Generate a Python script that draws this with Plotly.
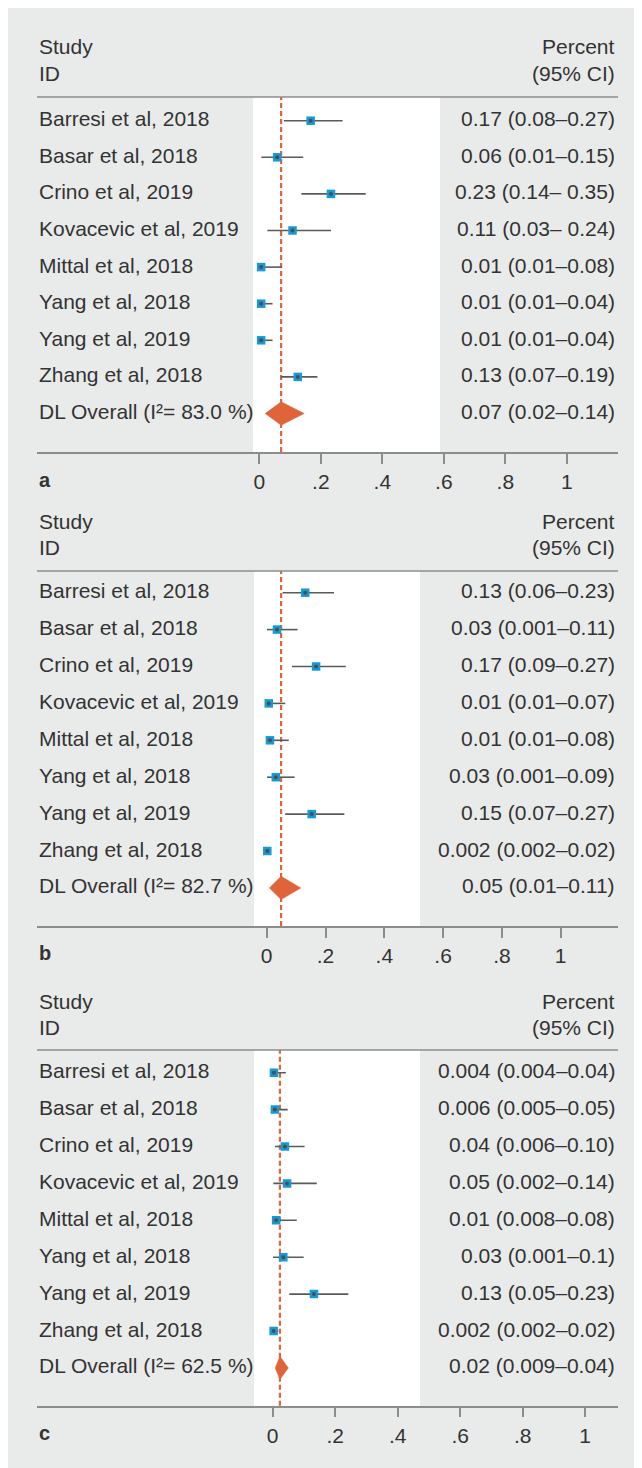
import plotly.graph_objects as go

# page body has an 8px margin: the figure is placed at (8, 8)
OFF = 8
W, H = 642 - OFF, 1468 - OFF

studies = ["Barresi et al, 2018", "Basar et al, 2018", "Crino et al, 2019",
           "Kovacevic et al, 2019", "Mittal et al, 2018", "Yang et al, 2018",
           "Yang et al, 2019", "Zhang et al, 2018"]

# ---- panel a ----
a_est = [0.167, 0.058, 0.233, 0.108, 0.006, 0.006, 0.006, 0.125]
a_lo = [0.080, 0.007, 0.137, 0.026, 0.006, 0.006, 0.006, 0.070]
a_hi = [0.271, 0.143, 0.346, 0.233, 0.073, 0.043, 0.043, 0.189]
a_overall = [0.071, 0.019, 0.146]
a_i2 = "83.0"
a_text = ["0.17 (0.08–0.27)", "0.06 (0.01–0.15)", "0.23 (0.14– 0.35)",
          "0.11 (0.03– 0.24)", "0.01 (0.01–0.08)", "0.01 (0.01–0.04)",
          "0.01 (0.01–0.04)", "0.13 (0.07–0.19)", "0.07 (0.02–0.14)"]

# ---- panel b ----
b_est = [0.131, 0.035, 0.168, 0.007, 0.011, 0.031, 0.153, 0.002]
b_lo = [0.054, 0.001, 0.086, 0.001, 0.001, 0.001, 0.063, 0.002]
b_hi = [0.229, 0.105, 0.269, 0.063, 0.075, 0.095, 0.264, 0.014]
b_overall = [0.049, 0.009, 0.116]
b_i2 = "82.7"
b_text = ["0.13 (0.06–0.23)", "0.03 (0.001–0.11)", "0.17 (0.09–0.27)",
          "0.01 (0.01–0.07)", "0.01 (0.01–0.08)", "0.03 (0.001–0.09)",
          "0.15 (0.07–0.27)", "0.002 (0.002–0.02)", "0.05 (0.01–0.11)"]

# ---- panel c ----
c_est = [0.004, 0.007, 0.039, 0.046, 0.011, 0.034, 0.132, 0.003]
c_lo = [0.004, 0.005, 0.007, 0.002, 0.008, 0.001, 0.053, 0.002]
c_hi = [0.042, 0.048, 0.102, 0.141, 0.077, 0.099, 0.242, 0.018]
c_overall = [0.023, 0.008, 0.050]
c_i2 = "62.5"
c_text = ["0.004 (0.004–0.04)", "0.006 (0.005–0.05)", "0.04 (0.006–0.10)",
          "0.05 (0.002–0.14)", "0.01 (0.008–0.08)", "0.03 (0.001–0.1)",
          "0.13 (0.05–0.23)", "0.002 (0.002–0.02)", "0.02 (0.009–0.04)"]

tick_vals = [0, 0.2, 0.4, 0.6, 0.8, 1]
tick_text = ["0", ".2", ".4", ".6", ".8", "1"]
panel_labels = ["a", "b", "c"]

# ---- layout geometry (page pixels) ----
geom = [
    dict(header=97, axis=452, row0=120.7, step=36.6, x0=259.3, unit=307.5,
         white=(253, 440), study=47, idy=74, lab=480),
    dict(header=571, axis=926, row0=592.7, step=36.9, x0=266.7, unit=294.0,
         white=(254, 420), study=521, idy=548, lab=953),
    dict(header=1050, axis=1405.7, row0=1072.7, step=36.9, x0=272.7, unit=312.5,
         white=(254, 420), study=1001, idy=1027, lab=1433),
]
LEFT, RIGHT, TEXT_R = 37, 618, 617

FONT = "Liberation Sans, Arial, sans-serif"
FS = 21
TXT = "#333333"
GRAY_BG = "#e9ebea"
LINE = "#8c8c8c"
ORANGE = "#e0643a"
BLUE = "#139bd8"
CI_COL = "#5a5a5a"


def fx(px):
    return (px - OFF) / W


def fy(py):
    return 1 - (py - OFF) / H


panels = [
    (a_est, a_lo, a_hi, a_overall, a_i2, a_text),
    (b_est, b_lo, b_hi, b_overall, b_i2, b_text),
    (c_est, c_lo, c_hi, c_overall, c_i2, c_text),
]

fig = go.Figure()
shapes = [dict(type="rect", xref="paper", yref="paper", x0=0, x1=1,
               y0=0, y1=1, fillcolor=GRAY_BG, line=dict(width=0), layer="below")]
annotations = []
layout_axes = {}

for k, ((est, lo, hi, ov, i2, txt), g, plab) in enumerate(zip(panels, geom, panel_labels)):
    sfx = "" if k == 0 else str(k + 1)
    xa, ya = "x" + sfx, "y" + sfx
    n = len(studies)
    rows = list(range(n))

    # CI lines
    xs, ys = [], []
    for i in rows:
        xs += [lo[i], hi[i], None]
        ys += [i, i, None]
    fig.add_trace(go.Scatter(x=xs, y=ys, mode="lines", line=dict(color=CI_COL, width=1.6),
                             xaxis=xa, yaxis=ya, hoverinfo="skip", showlegend=False))
    # squares
    fig.add_trace(go.Scatter(x=est, y=rows, mode="markers",
                             marker=dict(symbol="square", size=8.5, color=BLUE, line=dict(width=0)),
                             xaxis=xa, yaxis=ya, showlegend=False))
    # centre dots
    fig.add_trace(go.Scatter(x=est, y=rows, mode="markers",
                             marker=dict(symbol="circle", size=4, color="#4d4d4d", line=dict(width=0)),
                             xaxis=xa, yaxis=ya, showlegend=False))
    # overall diamond
    hh = 11.7 / g["step"]
    fig.add_trace(go.Scatter(x=[ov[1], ov[0], ov[2], ov[0], ov[1]],
                             y=[n, n - hh, n, n + hh, n], mode="lines", fill="toself",
                             fillcolor=ORANGE, line=dict(color=ORANGE, width=0.5),
                             xaxis=xa, yaxis=ya, showlegend=False, hoverinfo="skip"))

    # axes
    yr = [(g["axis"] - g["row0"]) / g["step"], (g["header"] - g["row0"]) / g["step"]]
    xr = [(LEFT - g["x0"]) / g["unit"], (RIGHT - g["x0"]) / g["unit"]]
    layout_axes["xaxis" + sfx] = dict(
        domain=[fx(LEFT), fx(RIGHT)], range=xr, anchor=ya, showgrid=False, zeroline=False,
        showline=True, linecolor=LINE, linewidth=1.5, ticks="outside", ticklen=10,
        tickwidth=1.5, tickcolor=LINE, tickvals=tick_vals, ticktext=tick_text,
        tickfont=dict(family=FONT, size=FS, color=TXT), ticklabelstandoff=0, fixedrange=True)
    layout_axes["yaxis" + sfx] = dict(
        domain=[fy(g["axis"]), fy(g["header"])], range=yr, anchor=xa, visible=False,
        showgrid=False, zeroline=False, fixedrange=True)

    # white plot region
    shapes.append(dict(type="rect", xref="paper", yref="paper",
                       x0=fx(g["white"][0]), x1=fx(g["white"][1]),
                       y0=fy(g["axis"]), y1=fy(g["header"]),
                       fillcolor="white", line=dict(width=0), layer="below"))
    # header line
    shapes.append(dict(type="line", xref="paper", yref="paper", x0=fx(LEFT), x1=fx(RIGHT),
                       y0=fy(g["header"]), y1=fy(g["header"]), line=dict(color=LINE, width=1.5)))
    # dashed overall line
    shapes.append(dict(type="line", xref=xa, yref=ya + " domain", x0=ov[0], x1=ov[0],
                       y0=0, y1=1, line=dict(color=ORANGE, width=2.2, dash="5px,3px"),
                       layer="below"))

    # header texts
    for txt_h, yy, side in [("Study", g["study"], "l"), ("ID", g["idy"], "l"),
                            ("Percent", g["study"], "r"), ("(95% CI)", g["idy"], "r")]:
        annotations.append(dict(text=txt_h, xref="paper", yref="paper",
                                x=fx(LEFT) if side == "l" else fx(TEXT_R), y=fy(yy),
                                xanchor="left" if side == "l" else "right", yanchor="middle",
                                showarrow=False, font=dict(family=FONT, size=FS, color=TXT)))
    # row labels
    labels = studies + ["DL Overall (I²= " + i2 + " %)"]
    for i, lab in enumerate(labels):
        annotations.append(dict(text=lab, xref="paper", yref=ya, x=fx(LEFT), y=i,
                                xanchor="left", yanchor="middle", yshift=2, showarrow=False,
                                font=dict(family=FONT, size=FS, color=TXT)))
        annotations.append(dict(text=txt[i], xref="paper", yref=ya, x=fx(TEXT_R), y=i,
                                xanchor="right", yanchor="middle", yshift=2, showarrow=False,
                                font=dict(family=FONT, size=FS, color=TXT)))
    # panel letter
    annotations.append(dict(text="<b>" + plab + "</b>", xref="paper", yref="paper",
                            x=fx(LEFT), y=fy(g["lab"]), xanchor="left", yanchor="middle",
                            showarrow=False, font=dict(family=FONT, size=FS - 1, color=TXT)))

fig.update_layout(
    width=W, height=H, margin=dict(l=0, r=0, t=0, b=0),
    paper_bgcolor=GRAY_BG, plot_bgcolor="rgba(0,0,0,0)",
    shapes=shapes, annotations=annotations, showlegend=False,
    **layout_axes,
)

fig.write_html("out.html")
